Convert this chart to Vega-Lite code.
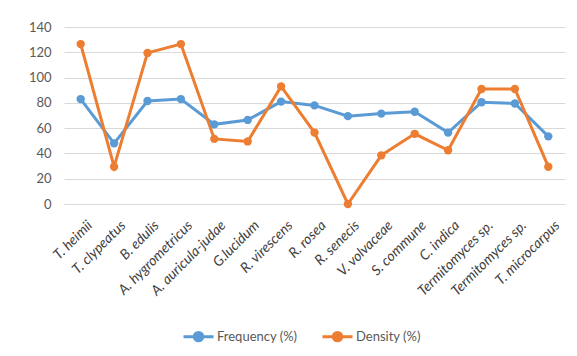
{
  "$schema": "https://vega.github.io/schema/vega-lite/v6.json",
  "width": 501,
  "height": 177,
  "autosize": {"type": "none"},
  "padding": {"left": 64, "top": 27, "right": 12, "bottom": 152},
  "background": "white",
  "config": {"view": {"stroke": null}, "font": "Lato"},
  "data": {"values": [
    {"species": "T. heimii", "series": "Frequency (%)", "value": 83},
    {"species": "T. clypeatus", "series": "Frequency (%)", "value": 48},
    {"species": "B. edulis", "series": "Frequency (%)", "value": 81.5},
    {"species": "A. hygrometricus", "series": "Frequency (%)", "value": 83},
    {"species": "A. auricula-judae", "series": "Frequency (%)", "value": 63},
    {"species": "G.lucidum", "series": "Frequency (%)", "value": 66.5},
    {"species": "R. virescens", "series": "Frequency (%)", "value": 81},
    {"species": "R. rosea", "series": "Frequency (%)", "value": 78},
    {"species": "R. senecis", "series": "Frequency (%)", "value": 69.5},
    {"species": "V. volvaceae", "series": "Frequency (%)", "value": 71.5},
    {"species": "S. commune", "series": "Frequency (%)", "value": 73},
    {"species": "C. indica", "series": "Frequency (%)", "value": 56.5},
    {"species": "Termitomyces sp.", "series": "Frequency (%)", "value": 80.5},
    {"species": "Termitomyces sp. ", "series": "Frequency (%)", "value": 79.5},
    {"species": "T. microcarpus", "series": "Frequency (%)", "value": 53.5},
    {"species": "T. heimii", "series": "Density (%)", "value": 126.5},
    {"species": "T. clypeatus", "series": "Density (%)", "value": 29.5},
    {"species": "B. edulis", "series": "Density (%)", "value": 119.5},
    {"species": "A. hygrometricus", "series": "Density (%)", "value": 126.5},
    {"species": "A. auricula-judae", "series": "Density (%)", "value": 51.5},
    {"species": "G.lucidum", "series": "Density (%)", "value": 49.5},
    {"species": "R. virescens", "series": "Density (%)", "value": 93},
    {"species": "R. rosea", "series": "Density (%)", "value": 56.5},
    {"species": "R. senecis", "series": "Density (%)", "value": 0},
    {"species": "V. volvaceae", "series": "Density (%)", "value": 38.5},
    {"species": "S. commune", "series": "Density (%)", "value": 55.5},
    {"species": "C. indica", "series": "Density (%)", "value": 42.5},
    {"species": "Termitomyces sp.", "series": "Density (%)", "value": 91},
    {"species": "Termitomyces sp. ", "series": "Density (%)", "value": 91},
    {"species": "T. microcarpus", "series": "Density (%)", "value": 29.5}
  ]},
  "encoding": {
    "x": {
      "field": "species", "type": "nominal", "sort": null,
      "axis": {"title": null, "labelAngle": -45, "labelFontStyle": "italic", "labelFontSize": 14, "labelColor": "#404040", "ticks": false, "domainColor": "#D9D9D9", "domainWidth": 1, "labelPadding": 14, "labelOffset": 4}
    },
    "y": {
      "field": "value", "type": "quantitative",
      "scale": {"domain": [0, 140], "nice": false},
      "axis": {"title": null, "values": [0, 20, 40, 60, 80, 100, 120, 140], "domain": false, "ticks": false, "gridColor": "#D9D9D9", "gridWidth": 1, "labelColor": "#595959", "labelFontSize": 13, "labelPadding": 13}
    },
    "color": {
      "field": "series", "type": "nominal",
      "sort": ["Frequency (%)", "Density (%)"],
      "scale": {"domain": ["Frequency (%)", "Density (%)"], "range": ["#5B9BD5", "#ED7D31"]},
      "legend": {
        "title": null, "orient": "none", "direction": "horizontal",
        "legendX": 118, "legendY": 293,
        "labelFontSize": 13, "labelColor": "#595959",
        "symbolType": "M-1,0L1,0M-0.28,0a0.28,0.28 0 1,0 0.56,0a0.28,0.28 0 1,0 -0.56,0Z",
        "symbolSize": 900, "symbolStrokeWidth": 3,
        "columnPadding": 18, "labelOffset": 2
      }
    }
  },
  "layer": [
    {"mark": {"type": "line", "strokeWidth": 3}},
    {"mark": {"type": "point", "filled": true, "size": 70, "opacity": 1}}
  ]
}
